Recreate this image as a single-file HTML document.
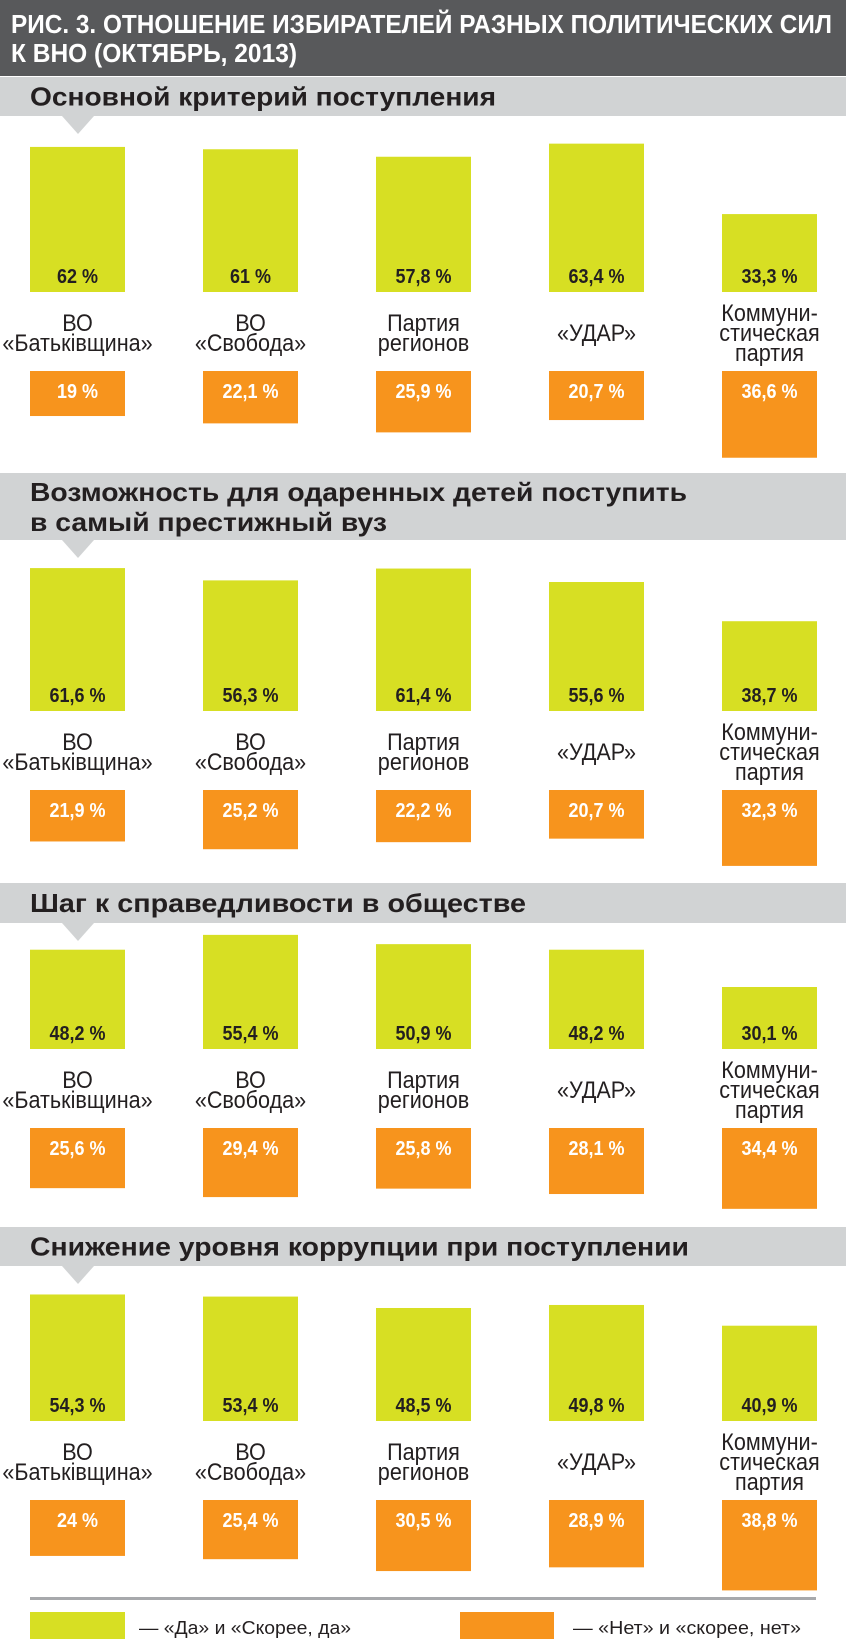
<!DOCTYPE html>
<html><head><meta charset="utf-8"><style>
html,body{margin:0;padding:0;background:#fff;}
svg{display:block;}
text{font-family:"Liberation Sans","DejaVu Sans",sans-serif;}
</style></head><body>
<svg id="chart" width="846" height="1651" viewBox="0 0 846 1651" xmlns="http://www.w3.org/2000/svg">
<rect x="0" y="0" width="846" height="76" fill="#58595b"/>
<text x="11" y="33" font-size="26" font-weight="bold" fill="#fff" textLength="821" lengthAdjust="spacingAndGlyphs">РИС. 3. ОТНОШЕНИЕ ИЗБИРАТЕЛЕЙ РАЗНЫХ ПОЛИТИЧЕСКИХ СИЛ</text>
<text x="11" y="62" font-size="26" font-weight="bold" fill="#fff" textLength="286" lengthAdjust="spacingAndGlyphs">К ВНО (ОКТЯБРЬ, 2013)</text>
<g id="panels"></g>
<rect x="30" y="1597" width="786" height="3" fill="#a7a9ac"/>
<rect x="30" y="1612" width="95" height="27" fill="#d7df23"/>
<text x="139" y="1634" font-size="18" fill="#231f20" textLength="212" lengthAdjust="spacingAndGlyphs">— «Да» и «Скорее, да»</text>
<rect x="460" y="1612" width="94" height="27" fill="#f7941d"/>
<text x="573" y="1634" font-size="18" fill="#231f20" textLength="228" lengthAdjust="spacingAndGlyphs">— «Нет» и «скорее, нет»</text>
</svg>
<script>
const parties = [["ВО","«Батьківщина»"],["ВО","«Свобода»"],["Партия","регионов"],["«УДАР»"],["Коммуни-","стическая","партия"]];
const panelTitles = [["Основной критерий поступления"],["Возможность для одаренных детей поступить","в самый престижный вуз"],["Шаг к справедливости в обществе"],["Снижение уровня коррупции при поступлении"]];
const yesValues = [[62,61,57.8,63.4,33.3],[61.6,56.3,61.4,55.6,38.7],[48.2,55.4,50.9,48.2,30.1],[54.3,53.4,48.5,49.8,40.9]];
const noValues = [[19,22.1,25.9,20.7,36.6],[21.9,25.2,22.2,20.7,32.3],[25.6,29.4,25.8,28.1,34.4],[24,25.4,30.5,28.9,38.8]];
const yesLabels = [["62 %","61 %","57,8 %","63,4 %","33,3 %"],["61,6 %","56,3 %","61,4 %","55,6 %","38,7 %"],["48,2 %","55,4 %","50,9 %","48,2 %","30,1 %"],["54,3 %","53,4 %","48,5 %","49,8 %","40,9 %"]];
const noLabels = [["19 %","22,1 %","25,9 %","20,7 %","36,6 %"],["21,9 %","25,2 %","22,2 %","20,7 %","32,3 %"],["25,6 %","29,4 %","25,8 %","28,1 %","34,4 %"],["24 %","25,4 %","30,5 %","28,9 %","38,8 %"]];

// layout (not data)
const layout = [
 {hTop:77,hBot:116,base:292,gs:2.34,os:2.37,tw:[466]},
 {hTop:473,hBot:540,base:711,gs:2.32,os:2.35,tw:[657,357]},
 {hTop:883,hBot:923,base:1049,gs:2.06,os:2.35,tw:[496]},
 {hTop:1227,hBot:1266,base:1421,gs:2.33,os:2.33,tw:[659]}
];
const NS="http://www.w3.org/2000/svg";
const root=document.getElementById('panels');
function mk(tag,attrs,parent){const e=document.createElementNS(NS,tag);for(const k in attrs)e.setAttribute(k,attrs[k]);(parent||root).appendChild(e);return e;}
function colX(i){return 30+i*173;}
function yesY(p,v){return layout[p].base-v*layout[p].gs;}
function noH(p,v){return v*layout[p].os;}

layout.forEach((L,p)=>{
  const g=mk('g',{});
  
  
  const hb=mk('rect',{x:0,y:L.hTop,width:846,height:L.hBot-L.hTop,fill:'#d1d3d4'},g);
  
  
  const tri=mk('polygon',{points:`62,${L.hBot} 94,${L.hBot} 78,${L.hBot+18}`,fill:'#d1d3d4'},g);
  
  
  const lines=panelTitles[p];
  lines.forEach((t,k)=>{
    const y = lines.length===1 ? (L.hTop+L.hBot)/2+9 : L.hTop+28+k*30;
    const tx=mk('text',{x:30,y:y,'font-size':26,'font-weight':'bold',fill:'#231f20',textLength:L.tw[k],lengthAdjust:'spacingAndGlyphs'},g);
    tx.textContent=t;
    
    
  });
  for(let i=0;i<5;i++){
    const x=colX(i), cx=x+47.5;
    const top=yesY(p,yesValues[p][i]);
    const b=mk('rect',{x:x,y:top,width:95,height:L.base-top,fill:'#d7df23'},g);
    
    
    const yl=mk('text',{'text-anchor':'middle','font-size':20,'font-weight':'bold',fill:'#231f20',transform:`translate(${cx},${L.base-9}) scale(0.9,1)`},g);
    yl.textContent=yesLabels[p][i];
    
    
    const pl=parties[i];
    const start = pl.length===3?L.base+29:(pl.length===2?L.base+39:L.base+49);
    pl.forEach((t,k)=>{
      const lt=mk('text',{'text-anchor':'middle','font-size':24,fill:'#231f20',transform:`translate(${cx},${start+k*20}) scale(0.9,1)`},g);
      lt.textContent=t;
      
      
    });
    const oTop=L.base+79;
    const ob=mk('rect',{x:x,y:oTop,width:95,height:noH(p,noValues[p][i]),fill:'#f7941d'},g);
    
    
    const nl=mk('text',{'text-anchor':'middle','font-size':20,'font-weight':'bold',fill:'#fff',transform:`translate(${cx},${oTop+27}) scale(0.9,1)`},g);
    nl.textContent=noLabels[p][i];
    
    
  }
});
</script>
</body></html>
